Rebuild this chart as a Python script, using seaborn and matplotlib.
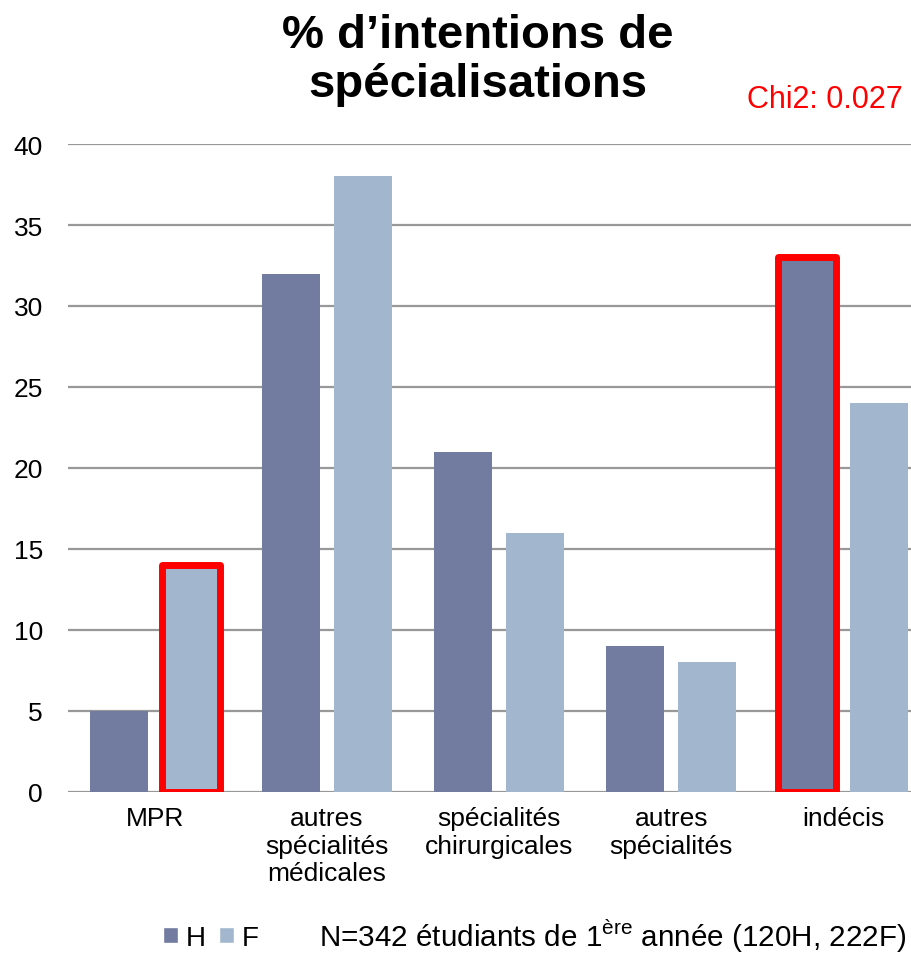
import matplotlib.pyplot as plt
import numpy as np
import pandas as pd
import seaborn as sns
from matplotlib.patches import Patch

categories = ['MPR', 'autres\nspécialités\nmédicales', 'spécialités\nchirurgicales',
              'autres\nspécialités', 'indécis']
values_h = [5, 32, 21, 9, 33]
values_f = [14, 38, 16, 8, 24]
groups = ['H', 'F']
colors = {'H': '#727BA0', 'F': '#A2B7CD'}
# bars framed in red: (category index, group)
highlighted = [(0, 'F'), (4, 'H')]

sns.set_theme(style='white')
plt.rcParams['font.family'] = ['Liberation Sans', 'DejaVu Sans']
plt.rcParams['text.color'] = 'black'
plt.rcParams['mathtext.fontset'] = 'custom'
plt.rcParams['mathtext.rm'] = 'Liberation Sans'

df = pd.DataFrame({
    'Catégorie': categories * 2,
    'Groupe': ['H'] * len(categories) + ['F'] * len(categories),
    'Pourcentage': values_h + values_f,
})

fig = plt.figure(figsize=(9.12, 9.54), dpi=100)
ax = fig.add_axes([0.0746, 0.1688, 0.9254, 0.6792])

sns.barplot(data=df, x='Catégorie', y='Pourcentage', hue='Groupe', order=categories,
            hue_order=groups, palette=colors, width=0.84, gap=0.2, saturation=1,
            linewidth=0, legend=False, ax=ax)

# red frame on selected bars
bars = [p for p in ax.patches if p.get_height() > 0]
for idx, grp in highlighted:
    bar = bars[groups.index(grp) * len(categories) + idx]
    bar.set_edgecolor('#FF0000')
    bar.set_linewidth(5)
    bar.set_joinstyle('round')
    bar.set_zorder(3)

ax.set_ylim(0, 40)
ax.set_xlim(-0.506, 4.40)
ax.set_yticks(np.arange(0, 41, 5))
ax.yaxis.grid(True, color='#989898', lw=1.6)
ax.set_axisbelow(True)
for s in ax.spines.values():
    s.set_visible(False)
ax.tick_params(axis='both', length=0, labelsize=19, colors='black')
ax.tick_params(axis='y', pad=18)
ax.tick_params(axis='x', pad=10)
ax.set_xlabel('')
ax.set_ylabel('')

fig.text(0.524, 0.9365, '% d’intentions de\nspécialisations', ha='center', va='center',
         fontsize=34, fontweight='bold', linespacing=1.17)
fig.text(0.99, 0.895, 'Chi2: 0.027', ha='right', va='center', fontsize=22, color='#FF0000')

handles = [Patch(facecolor=colors[g], label=g) for g in groups]
fig.legend(handles=handles, loc='center', bbox_to_anchor=(0.231, 0.016), ncol=2, frameon=False,
           fontsize=20, handlelength=0.55, handleheight=0.55, handletextpad=0.25, columnspacing=0.5)
fig.text(0.993, 0.019, 'N=342 étudiants de 1$^{\\mathrm{ère}}$ année (120H, 222F)',
         ha='right', va='center', fontsize=21.3)

plt.savefig('out.png', dpi=100)
